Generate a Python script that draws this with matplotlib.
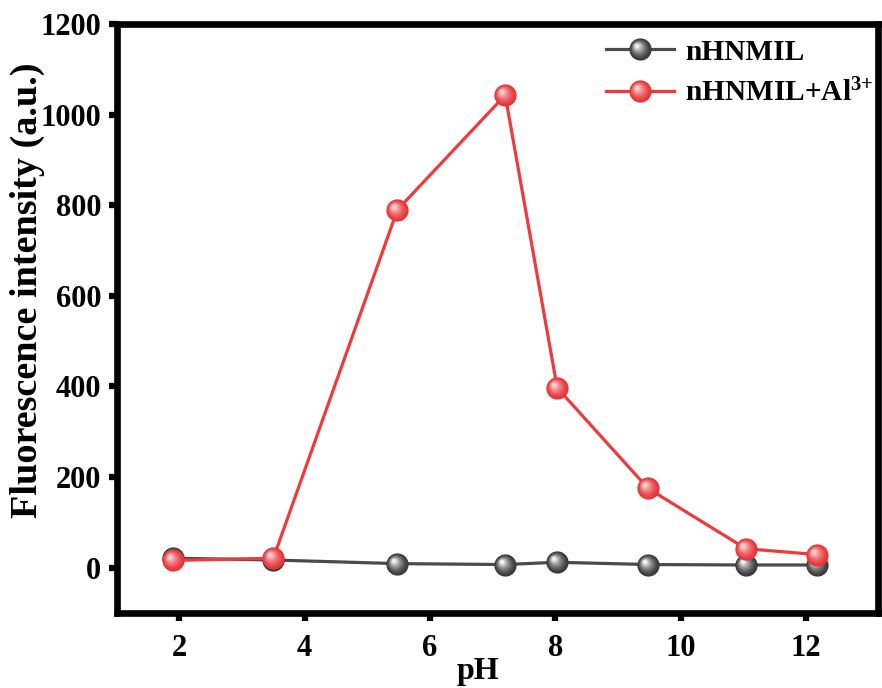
import matplotlib
matplotlib.use("Agg")
import matplotlib.pyplot as plt
import numpy as np
from matplotlib.path import Path
from matplotlib.colors import to_rgb
from matplotlib.legend_handler import HandlerTuple

plt.rcParams['font.family'] = ['Liberation Serif', 'DejaVu Serif']
plt.rcParams['font.weight'] = 'bold'
plt.rcParams['mathtext.fontset'] = 'custom'
plt.rcParams['mathtext.rm'] = 'Liberation Serif:bold'
plt.rcParams['mathtext.it'] = 'Liberation Serif:bold'
plt.rcParams['mathtext.bf'] = 'Liberation Serif:bold'

# pH series and intensities
ph = [1.9, 3.5, 5.48, 7.2, 8.03, 9.48, 11.04, 12.17]
free_ligand = [21, 17, 9, 7, 12, 7, 6, 6]
with_al = [16, 21, 790, 1043, 397, 175, 42, 29]

labels = ['nHNMIL', r'nHNMIL+Al$^{3{+}}$']
x_ticks = [2, 4, 6, 8, 10, 12]
y_ticks = [0, 200, 400, 600, 800, 1000, 1200]

BALL = 16  # marker diameter in points


def circle_path(cx, cy, r, n=64):
    t = np.linspace(0, 2 * np.pi, n)
    verts = np.column_stack([cx + r * np.cos(t), cy + r * np.sin(t)])
    codes = [Path.MOVETO] + [Path.LINETO] * (n - 2) + [Path.CLOSEPOLY]
    return Path(verts, codes)


def blend(c1, c2, t):
    a, b = np.array(to_rgb(c1)), np.array(to_rgb(c2))
    return tuple(a + (b - a) * t)


def shaded_balls(ax, x, y, base, light, zorder, layers=12):
    """Draw markers as shaded spheres: stacked discs shrinking toward an upper-left highlight."""
    handles = []
    for i in range(layers):
        t = i / (layers - 1)
        r = 1.0 - 0.84 * t
        c = 0.32 * t
        if c == 0:
            marker = 'o'
            ms = BALL
        else:
            marker = circle_path(-c, c, r)
            ms = BALL * (c + r)
        col = blend(base, light, t ** 1.5)
        h, = ax.plot(x, y, linestyle='none', marker=marker, markersize=ms,
                     markerfacecolor=col, markeredgewidth=0, zorder=zorder + i * 0.01)
        handles.append(h)
    return handles


fig, ax = plt.subplots(figsize=(8.82, 6.88), dpi=100)
fig.subplots_adjust(left=0.1323, right=0.9955, top=0.965, bottom=0.109)

black_line, = ax.plot(ph, free_ligand, color='#4a4a4a', linewidth=2.3, zorder=2)
black_balls = shaded_balls(ax, ph, free_ligand, '#3a3a3a', '#f4f4f4', zorder=3)
red_line, = ax.plot(ph, with_al, color='#ee3a3d', linewidth=2.3, zorder=4)
red_balls = shaded_balls(ax, ph, with_al, '#e63438', '#fbd3d5', zorder=5)

ax.set_xlim(1, 13.15)
ax.set_ylim(-100, 1200)
ax.set_xticks(x_ticks)
ax.set_yticks(y_ticks)

for side in ['left', 'right', 'top', 'bottom']:
    ax.spines[side].set_linewidth(4.8)
ax.tick_params(direction='out', length=6, width=4.5, labelsize=22)
ax.tick_params(axis='x', pad=9)
ax.tick_params(axis='y', pad=5)
for lab in ax.get_xticklabels() + ax.get_yticklabels():
    lab.set_fontweight('bold')

ax.set_xlabel('pH', fontsize=23, fontweight='bold', labelpad=-4)
ax.set_ylabel('Fluorescence intensity (a.u.)', fontsize=27.5, fontweight='bold', labelpad=-3)
ax.xaxis.label.set_x(0.475)
ax.yaxis.label.set_y(0.548)

leg = ax.legend([tuple([black_line] + black_balls), tuple([red_line] + red_balls)], labels,
                handler_map={tuple: HandlerTuple(ndivide=1)},
                loc='upper left', frameon=False, numpoints=1,
                prop={'size': 21.2, 'weight': 'bold'},
                handlelength=2.3, handletextpad=0.37, labelspacing=0.45,
                borderaxespad=0.1, bbox_to_anchor=(0.624, 1.0))

fig.savefig('out.png', dpi=100)
